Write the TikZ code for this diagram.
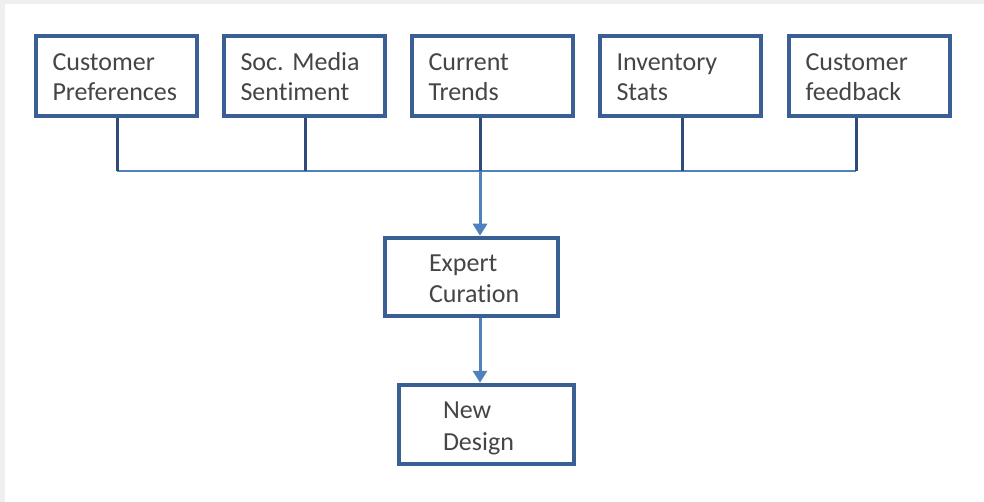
\documentclass[tikz,border=0pt]{standalone}
\usepackage{fontspec}
\setmainfont{Carlito}[Ligatures=NoCommon]
\usetikzlibrary{arrows.meta}
\definecolor{boxblue}{HTML}{3A5F94}
\definecolor{stemblue}{HTML}{2E4B7C}
\definecolor{busblue}{HTML}{4F81BD}
\definecolor{txtgray}{HTML}{454545}
\definecolor{framegray}{HTML}{EEF0EF}
\newcommand{\topfix}[1]{\rule{0pt}{#1}}
\tikzset{
  srcbox/.style={draw=boxblue, line width=4.5pt, rectangle, minimum width=161pt, minimum height=80pt,
    inner xsep=16.5pt, inner ysep=0pt, text width=128pt, align=left, text=txtgray,
    font=\fontsize{26}{30}\selectfont},
  midbox/.style={draw=boxblue, line width=4.5pt, rectangle, inner xsep=44pt, inner ysep=0pt,
    align=left, text=txtgray},
  stem/.style={draw=stemblue, line width=3pt},
  bus/.style={draw=busblue, line width=2.6pt},
  flow/.style={draw=busblue, line width=3pt, -{Triangle[length=12pt,width=14pt]}}
}
\begin{document}
\begin{tikzpicture}[x=1pt,y=-1pt]
\useasboundingbox (0,0) rectangle (984,502);
\fill[framegray] (0,0) rectangle (984,502);
\fill[white] (5,4) rectangle (984,502);

\node[srcbox] (b1) at (116.5,76) {\topfix{20pt}Customer\\Preferences};
\node[srcbox] (b2) at (304.5,76) {\topfix{20pt}Soc.\ Media\\Sentiment};
\node[srcbox] (b3) at (492.5,76) {\topfix{20pt}Current\\Trends};
\node[srcbox] (b4) at (680.5,76) {\topfix{20pt}Inventory\\Stats};
\node[srcbox] (b5) at (869.5,76) {\topfix{20pt}Customer\\feedback};

\node[midbox, minimum width=173pt, minimum height=78pt, text width=85pt,
  font=\fontsize{26}{31}\selectfont] (ex) at (471.5,277) {\topfix{21pt}Expert\\Curation};
\node[midbox, minimum width=175pt, minimum height=79pt, text width=87pt,
  font=\fontsize{26}{32}\selectfont] (nd) at (486.5,424.5) {\topfix{25pt}New\\Design\rule[-6pt]{0pt}{6pt}};

\coordinate (s1) at (117,171);
\coordinate (s2) at (305,171);
\coordinate (s3) at (480,171);
\coordinate (s4) at (682,171);
\coordinate (s5) at (856,171);

\draw[bus] (s1) -- (s5);
\draw[stem] (b1.south -| s1) -- (s1);
\draw[stem] (b2.south -| s2) -- (s2);
\draw[stem] (b3.south -| s3) -- (s3);
\draw[stem] (b4.south -| s4) -- (s4);
\draw[stem] (b5.south -| s5) -- (s5);

\draw[flow] (s3) -- (s3 |- ex.north);
\draw[flow] (s3 |- ex.south) -- (s3 |- nd.north);
\end{tikzpicture}
\end{document}
